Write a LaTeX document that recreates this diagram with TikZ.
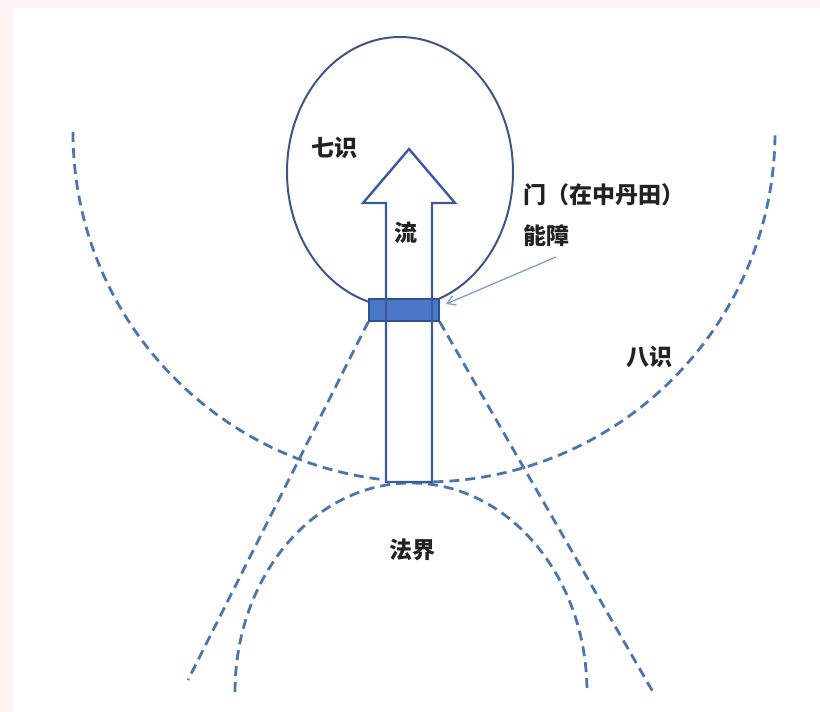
\documentclass[tikz,border=0pt]{standalone}
\usepackage{fontspec}
\setmainfont{Noto Sans CJK SC}
\usetikzlibrary{arrows.meta}
\definecolor{pinkbg}{HTML}{FDF3F3}
\definecolor{dashblue}{HTML}{4A76B0}
\definecolor{ringblue}{HTML}{3E5687}
\definecolor{arrowblue}{HTML}{3D5A99}
\definecolor{gatefill}{HTML}{4A78C6}
\definecolor{gateedge}{HTML}{2F528F}
\definecolor{pointblue}{HTML}{7A9FD0}
\definecolor{txt}{HTML}{222222}
\tikzset{
  dashline/.style={draw=dashblue, line width=2.8pt, dash pattern=on 10pt off 6pt},
  ringline/.style={draw=ringblue, line width=2pt},
  arrowline/.style={draw=arrowblue, line width=2.4pt, line join=miter},
  gatebox/.style={draw=gateedge, line width=1.2pt, fill=gatefill, minimum width=70pt, minimum height=22pt, inner sep=0pt},
  pointer/.style={draw=pointblue, line width=1.3pt, -{Straight Barb[length=8pt,width=10pt]}},
  lbl/.style={text=txt, font=\fontsize{23}{26}\selectfont\bfseries, inner sep=0pt}
}
\begin{document}
\begin{tikzpicture}[x=1pt,y=-1pt]
\useasboundingbox (0,0) rectangle (820,712);
\fill[pinkbg] (0,0) rectangle (820,712);
\fill[white] (13,8) rectangle (820,712);

% gate position
\node[gatebox] (gate) at (404,310) {};
\coordinate (ldiv) at (188,680);
\coordinate (rdiv) at (653,692);

% dashed shapes
\draw[dashline] (73,132) arc[start angle=180, end angle=0, x radius=351, y radius=350];
\draw[dashline] (235,692) arc[start angle=180, end angle=360, x radius=176, y radius=209];
\draw[dashline] (gate.south west) -- (ldiv);
\draw[dashline] (gate.south east) -- (rdiv);

% seventh consciousness ellipse
\draw[ringline] (400,172) ellipse[x radius=113, y radius=135];

% flow arrow
\draw[arrowline, fill=white] (409,149) -- (455,203) -- (432,203) -- (432,482) -- (386,482) -- (386,203) -- (363,203) -- cycle;

% gate on top
\node[gatebox] at (gate) {};
\draw[arrowline] (386,298) -- (386,322);
\draw[arrowline] (432,298) -- (432,322);

% labels
\node[lbl] (qishi) at (334,148) {七识};
\node[lbl] (liu) at (406,233) {流};
\node[lbl, anchor=west] (men) at (523,195) {门（在中丹田）};
\node[lbl, anchor=west] (nengzhang) at (523,236) {能障};
\node[lbl] (bashi) at (649,357) {八识};
\node[lbl] (fajie) at (412,550) {法界};

% pointer
\coordinate (ptail) at (556,257);
\coordinate (phead) at (446,304);
\draw[pointer] (ptail) -- (phead);
\end{tikzpicture}
\end{document}
